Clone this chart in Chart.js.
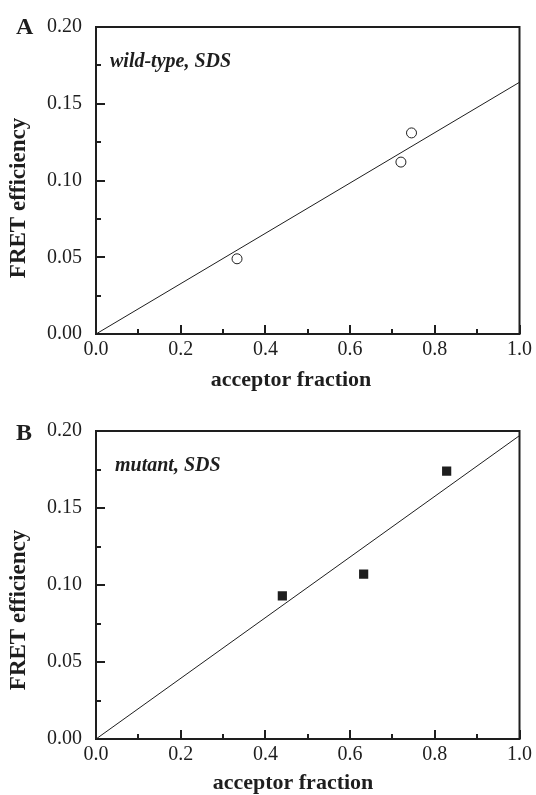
<!DOCTYPE html>
<html lang="en">
<head>
<meta charset="UTF-8">
<title>FRET efficiency vs acceptor fraction</title>
<script src="https://cdn.jsdelivr.net/npm/chart.js"></script>
<style>
  body { margin: 0; background: #fff; }
  #wrap { position: relative; width: 536px; height: 795px; }
  .panel { position: absolute; left: 0; width: 536px; }
  #panelA { top: 0; height: 395px; }
  #panelB { top: 395px; height: 400px; }
</style>
</head>
<body>
<div id="wrap">
  <div class="panel" id="panelA"><canvas id="chartA"></canvas></div>
  <div class="panel" id="panelB"><canvas id="chartB"></canvas></div>
</div>
<script>
// values
const wildX = [0.333, 0.720, 0.745];
const wildY = [0.049, 0.112, 0.131];
const wildFitX = [0.0, 1.0];
const wildFitY = [0.0, 0.164];

const mutX = [0.440, 0.632, 0.828];
const mutY = [0.093, 0.107, 0.174];
const mutFitX = [0.0, 1.0];
const mutFitY = [0.0, 0.197];

const xTitle = 'acceptor fraction';
const yTitle = 'FRET efficiency';

const INK = '#1e1e1e';
const SERIF = '"Liberation Serif", "Times New Roman", serif';

function pts(xs, ys) {
  return xs.map((x, i) => ({ x: x, y: ys[i] }));
}

// frame, inward ticks, axis titles, panel letter and note
const framePlugin = {
  id: 'frame',
  afterDraw(chart, args, opts) {
    const { ctx, chartArea: a } = chart;
    const sx = chart.scales.x, sy = chart.scales.y;
    ctx.save();
    ctx.strokeStyle = INK;
    ctx.lineWidth = 2;
    ctx.strokeRect(a.left, a.top, a.right - a.left, a.bottom - a.top);

    const xt = sx.ticks.map(t => t.value);
    const yt = sy.ticks.map(t => t.value);
    ctx.beginPath();
    xt.forEach((v, i) => {
      const p = Math.round(sx.getPixelForValue(v));
      ctx.moveTo(p, a.bottom); ctx.lineTo(p, a.bottom - 9);
      if (i < xt.length - 1) {
        const m = Math.round(sx.getPixelForValue((v + xt[i + 1]) / 2));
        ctx.moveTo(m, a.bottom); ctx.lineTo(m, a.bottom - 5);
      }
    });
    yt.forEach((v, i) => {
      const p = Math.round(sy.getPixelForValue(v));
      ctx.moveTo(a.left, p); ctx.lineTo(a.left + 9, p);
      if (i < yt.length - 1) {
        const m = Math.round(sy.getPixelForValue((v + yt[i + 1]) / 2));
        ctx.moveTo(a.left, m); ctx.lineTo(a.left + 5, m);
      }
    });
    ctx.stroke();

    ctx.fillStyle = INK;
    // axis titles
    ctx.textAlign = 'center';
    ctx.textBaseline = 'middle';
    ctx.font = 'bold 22px ' + SERIF;
    ctx.fillText(xTitle, opts.xTitleX, opts.xTitleY);
    ctx.save();
    ctx.translate(opts.yTitleX, opts.yTitleY);
    ctx.rotate(-Math.PI / 2);
    ctx.font = 'bold 23px ' + SERIF;
    ctx.fillText(yTitle, 0, 0);
    ctx.restore();

    ctx.textBaseline = 'alphabetic';
    ctx.textAlign = 'left';
    ctx.font = 'bold 24px ' + SERIF;
    ctx.fillText(opts.letter, opts.letterX, opts.letterY);
    ctx.font = 'italic bold 20px ' + SERIF;
    ctx.fillText(opts.note, opts.noteX, opts.noteY);
    ctx.restore();
  }
};

function makeChart(id, data, fit, marker, opts) {
  return new Chart(document.getElementById(id), {
    type: 'scatter',
    data: {
      datasets: [
        {
          data: fit,
          showLine: true,
          borderColor: INK,
          borderWidth: 1,
          pointRadius: 0,
          fill: false
        },
        Object.assign({ data: data, showLine: false }, marker)
      ]
    },
    options: {
      responsive: true,
      maintainAspectRatio: false,
      animation: false,
      layout: { padding: { top: opts.padTop, right: 16, left: 0, bottom: 0 } },
      plugins: {
        legend: { display: false },
        tooltip: { enabled: false },
        frame: opts
      },
      scales: {
        x: {
          type: 'linear',
          min: 0, max: 1.0,
          grid: { display: false, drawTicks: false },
          border: { display: false },
          ticks: {
            stepSize: 0.2,
            padding: 4,
            maxRotation: 0,
            autoSkip: false,
            color: INK,
            font: { family: SERIF, size: 20 },
            callback: v => v.toFixed(1)
          },
          title: { display: false },
          afterFit: s => { s.height = opts.xHeight; }
        },
        y: {
          type: 'linear',
          min: 0, max: 0.2,
          grid: { display: false, drawTicks: false },
          border: { display: false },
          ticks: {
            stepSize: 0.05,
            padding: 14,
            color: INK,
            font: { family: SERIF, size: 20 },
            callback: v => v.toFixed(2)
          },
          title: { display: false },
          afterFit: s => { s.width = 96; }
        }
      }
    },
    plugins: [framePlugin]
  });
}

makeChart('chartA', pts(wildX, wildY), pts(wildFitX, wildFitY), {
  pointStyle: 'circle',
  pointRadius: 5,
  pointBorderWidth: 1,
  pointBorderColor: INK,
  pointBackgroundColor: '#fff'
}, {
  padTop: 27, xHeight: 61,
  xTitleX: 291, xTitleY: 380, yTitleX: 19, yTitleY: 198,
  letter: 'A', letterX: 16, letterY: 34,
  note: 'wild-type, SDS', noteX: 110, noteY: 67
});

makeChart('chartB', pts(mutX, mutY), pts(mutFitX, mutFitY), {
  pointStyle: 'rect',
  pointRadius: 6.5,
  pointBorderWidth: 0,
  pointBorderColor: INK,
  pointBackgroundColor: INK
}, {
  padTop: 36, xHeight: 56,
  xTitleX: 293, xTitleY: 388, yTitleX: 19, yTitleY: 215,
  letter: 'B', letterX: 16, letterY: 45,
  note: 'mutant, SDS', noteX: 115, noteY: 76
});
</script>
</body>
</html>
